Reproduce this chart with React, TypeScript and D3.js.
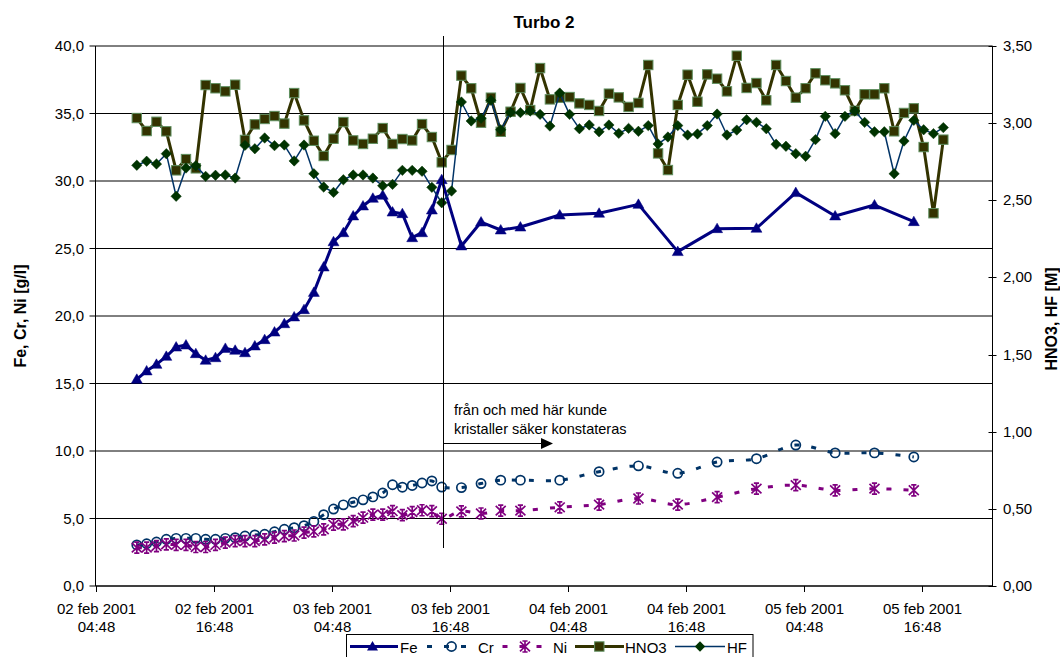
import React from "react";
import * as d3 from "d3";

// ---------- data ----------
const metalTimes = [
  "02 09", "02 10", "02 11", "02 12", "02 13", "02 14", "02 15", "02 16", "02 17", "02 18",
  "02 19", "02 20", "02 21", "02 22", "02 23", "03 00", "03 01", "03 02", "03 03", "03 04",
  "03 05", "03 06", "03 07", "03 08", "03 09", "03 10", "03 11", "03 12", "03 13", "03 14",
  "03 15", "03 16", "03 18", "03 20", "03 22", "04 00", "04 04", "04 08", "04 12", "04 16",
  "04 20", "05 00", "05 04", "05 08", "05 12", "05 16",
];
const feValues = [
  15.31, 15.93, 16.42, 17.01, 17.7, 17.85, 17.21, 16.72, 16.91, 17.6,
  17.46, 17.28, 17.78, 18.25, 18.81, 19.43, 19.93, 20.47, 21.75, 23.63,
  25.5, 26.17, 27.41, 28.15, 28.72, 28.94, 27.7, 27.58, 25.8, 26.17,
  27.85, 30.1, 25.19, 26.96, 26.37, 26.59, 27.48, 27.61, 28.27, 24.77,
  26.47, 26.5, 29.14, 27.41, 28.22, 26.99,
];
const crValues = [
  3.04, 3.13, 3.26, 3.46, 3.53, 3.53, 3.53, 3.46, 3.46, 3.53,
  3.58, 3.7, 3.78, 3.83, 4.02, 4.2, 4.32, 4.47, 4.78, 5.28,
  5.7, 6.01, 6.2, 6.38, 6.6, 6.89, 7.5, 7.32, 7.45, 7.63,
  7.78, 7.33, 7.29, 7.59, 7.84, 7.84, 7.84, 8.47, 8.9, 8.35,
  9.18, 9.43, 10.44, 9.86, 9.86, 9.56,
];
const niValues = [
  2.84, 2.84, 2.96, 3.09, 3.04, 3.04, 2.89, 2.89, 3.04, 3.21,
  3.33, 3.33, 3.33, 3.46, 3.58, 3.7, 3.74, 3.95, 4.04, 4.2,
  4.55, 4.57, 4.81, 5.06, 5.29, 5.28, 5.54, 5.25, 5.47, 5.61,
  5.54, 4.98, 5.53, 5.37, 5.58, 5.58, 5.83, 6.03, 6.48, 6.03,
  6.58, 7.21, 7.47, 7.09, 7.21, 7.09,
];

const acidTimes = [
  "02 09", "02 10", "02 11", "02 12", "02 13", "02 14", "02 15", "02 16", "02 17", "02 18",
  "02 19", "02 20", "02 21", "02 22", "02 23", "03 00", "03 01", "03 02", "03 03", "03 04",
  "03 05", "03 06", "03 07", "03 08", "03 09", "03 10", "03 11", "03 12", "03 13", "03 14",
  "03 15", "03 16", "03 17", "03 18", "03 19", "03 20", "03 21", "03 22", "03 23", "04 00",
  "04 01", "04 02", "04 03", "04 04", "04 05", "04 06", "04 07", "04 08", "04 09", "04 10",
  "04 11", "04 12", "04 13", "04 14", "04 15", "04 16", "04 17", "04 18", "04 19", "04 20",
  "04 21", "04 22", "04 23", "05 00", "05 01", "05 02", "05 03", "05 04", "05 05", "05 06",
  "05 07", "05 08", "05 09", "05 10", "05 11", "05 12", "05 13", "05 14", "05 15", "05 16",
  "05 17", "05 18", "05 19",
];
const hno3Values = [
  3.033, 2.949, 3.009, 2.947, 2.694, 2.767, 2.707, 3.247, 3.226, 3.206,
  3.249, 2.891, 2.992, 3.027, 3.046, 2.997, 3.195, 3.018, 2.886, 2.787,
  2.899, 3.007, 2.888, 2.865, 2.899, 2.968, 2.865, 2.897, 2.888, 2.994,
  2.91, 2.746, 2.826, 3.308, 3.226, 3.003, 3.165, 2.944, 3.074, 3.228,
  3.085, 3.357, 3.154, 3.165, 3.169, 3.128, 3.118, 3.079, 3.191, 3.167,
  3.105, 3.131, 3.377, 2.804, 2.696, 3.118, 3.314, 3.139, 3.316, 3.288,
  3.206, 3.437, 3.228, 3.26, 3.148, 3.377, 3.273, 3.165, 3.226, 3.323,
  3.278, 3.258, 3.213, 3.079, 3.187, 3.187, 3.226, 2.947, 3.066, 3.096,
  2.845, 2.416, 2.893,
];
const hfValues = [
  2.727, 2.753, 2.735, 2.802, 2.526, 2.709, 2.724, 2.655, 2.662, 2.664,
  2.644, 2.856, 2.834, 2.904, 2.854, 2.858, 2.755, 2.858, 2.672, 2.586,
  2.551, 2.633, 2.664, 2.664, 2.644, 2.594, 2.603, 2.694, 2.694, 2.688,
  2.584, 2.484, 2.56, 3.137, 3.014, 3.031, 3.148, 2.957, 3.07, 3.068,
  3.079, 3.057, 2.981, 3.195, 3.057, 2.964, 2.988, 2.944, 2.988, 2.934,
  2.966, 2.947, 2.984, 2.865, 2.91, 2.984, 2.923, 2.93, 2.984, 3.059,
  2.923, 2.955, 3.022, 3.005, 2.964, 2.863, 2.85, 2.802, 2.785, 2.893,
  3.044, 2.932, 3.044, 3.079, 3.005, 2.944, 2.944, 2.672, 2.884, 3.018,
  2.957, 2.932, 2.971,
];

const xDomain = ["2001-02-02 04:48", "2001-02-06 00:00"];
const xTicks = [
  "2001-02-02 04:48", "2001-02-02 16:48", "2001-02-03 04:48", "2001-02-03 16:48",
  "2001-02-04 04:48", "2001-02-04 16:48", "2001-02-05 04:48", "2001-02-05 16:48",
];
const leftTicks = [0, 5, 10, 15, 20, 25, 30, 35, 40];
const rightTicks = [0, 0.5, 1, 1.5, 2, 2.5, 3, 3.5];
const annotationTime = "2001-02-03 16:05";
const annotationText = ["från och med här kunde", "kristaller säker konstateras"];

// ---------- helpers ----------
const parseFull = d3.utcParse("%Y-%m-%d %H:%M");
const parseShort = (s: string) => d3.utcParse("%Y-%m-%d %H")("2001-02-" + s) as Date;
const fmtDate = d3.utcFormat("%d feb %Y");
const fmtTime = d3.utcFormat("%H:%M");
const comma = (f: string) => (v: number) => d3.format(f)(v).replace(".", ",");

const FONT = "'Liberation Sans', Arial, Helvetica, sans-serif";

const C_FE = "#000080";
const C_CR = "#003366";
const C_NI = "#800080";
const C_HNO3 = "#333300";
const C_HF = "#003366";
const C_HFM = "#003300";

const triPath = "M0,-5.5L5.5,4L-5.5,4Z";
const diaPath = "M0,-5.2L5.2,0L0,5.2L-5.2,0Z";
const starPath = "M0,-5.5V5.5M-5,-4.8L5,4.8M5,-4.8L-5,4.8M-2.6,-5.5H2.6M-2.6,5.5H2.6";

type Pt = [Date, number];

export default function App() {
  const x = d3
    .scaleUtc()
    .domain(xDomain.map((s) => parseFull(s) as Date))
    .range([95.5, 992.5]);
  const yL = d3.scaleLinear().domain([0, 40]).range([586, 46]);
  const yR = d3.scaleLinear().domain([0, 3.5]).range([586, 46]);

  const mt = metalTimes.map(parseShort);
  const at = acidTimes.map(parseShort);
  const fe: Pt[] = mt.map((t, i) => [t, feValues[i]]);
  const cr: Pt[] = mt.map((t, i) => [t, crValues[i]]);
  const ni: Pt[] = mt.map((t, i) => [t, niValues[i]]);
  const hno3: Pt[] = at.map((t, i) => [t, hno3Values[i]]);
  const hf: Pt[] = at.map((t, i) => [t, hfValues[i]]);

  const lineL = d3.line<Pt>().x((d) => x(d[0])).y((d) => yL(d[1]));
  const smoothL = d3
    .line<Pt>()
    .x((d) => x(d[0]))
    .y((d) => yL(d[1]))
    .curve(d3.curveCatmullRom.alpha(0));
  const lineR = d3.line<Pt>().x((d) => x(d[0])).y((d) => yR(d[1]));

  const xl = 95.5;
  const xr = 992.5;
  const ax = Math.round(x(parseFull(annotationTime) as Date)) + 0.5;
  const fmtL = comma(".1f");
  const fmtR = comma(".2f");

  return (
    <svg
      width={1060}
      height={657}
      style={{ position: "absolute", left: 0, top: 0, background: "#fff" }}
      fontFamily={FONT}
    >
      <rect x={0} y={0} width={1060} height={657} fill="#fff" />
      {/* title */}
      <text x={544} y={28} textAnchor="middle" fontSize={17} fontWeight="bold">
        Turbo 2
      </text>

      {/* grid lines */}
      {leftTicks.map((t) => (
        <line key={"g" + t} x1={xl} x2={xr} y1={yL(t)} y2={yL(t)} stroke="#000" strokeWidth={1} />
      ))}
      <line x1={xl} x2={xr} y1={yL(40)} y2={yL(40)} stroke="#808080" strokeWidth={1} />

      {/* left axis */}
      <line x1={xl} x2={xl} y1={yL(40)} y2={yL(0)} stroke="#000" />
      {leftTicks.map((t) => (
        <g key={"lt" + t}>
          <line x1={xl - 6} x2={xl} y1={yL(t)} y2={yL(t)} stroke="#000" />
          <text x={84} y={yL(t) + 5} textAnchor="end" fontSize={15}>
            {fmtL(t)}
          </text>
        </g>
      ))}
      {/* right axis */}
      <line x1={xr} x2={xr} y1={yR(3.5)} y2={yR(0)} stroke="#000" />
      {rightTicks.map((t) => (
        <g key={"rt" + t}>
          <line x1={xr - 4} x2={xr + 4} y1={Math.round(yR(t)) + 0.5} y2={Math.round(yR(t)) + 0.5} stroke="#000" />
          <text x={1003} y={yR(t) + 5} textAnchor="start" fontSize={15}>
            {fmtR(t)}
          </text>
        </g>
      ))}
      {/* x axis */}
      <line x1={xl} x2={xr} y1={yL(0)} y2={yL(0)} stroke="#000" />
      {xTicks.map((s) => {
        const d = parseFull(s) as Date;
        const px = Math.round(x(d)) + 0.5;
        return (
          <g key={s}>
            <line x1={px} x2={px} y1={586} y2={592} stroke="#000" />
            <text x={px} y={614} textAnchor="middle" fontSize={15}>
              {fmtDate(d)}
            </text>
            <text x={px} y={632} textAnchor="middle" fontSize={15}>
              {fmtTime(d)}
            </text>
          </g>
        );
      })}

      {/* axis titles */}
      <text transform="translate(26,316) rotate(-90)" textAnchor="middle" fontSize={16} fontWeight="bold">
        Fe, Cr, Ni [g/l]
      </text>
      <text transform="translate(1057,319) rotate(-90)" textAnchor="middle" fontSize={16} fontWeight="bold">
        HNO3, HF [M]
      </text>

      {/* Fe */}
      <path d={lineL(fe) || ""} fill="none" stroke={C_FE} strokeWidth={3} strokeLinejoin="round" />
      {fe.map((d, i) => (
        <path key={"fe" + i} d={triPath} transform={`translate(${x(d[0])},${yL(d[1])})`} fill={C_FE} stroke={C_FE} strokeWidth={0.5} />
      ))}

      {/* Cr */}
      <path d={smoothL(cr) || ""} fill="none" stroke={C_CR} strokeWidth={3} strokeDasharray="5,12" />
      {cr.map((d, i) => (
        <circle key={"cr" + i} cx={x(d[0])} cy={yL(d[1])} r={4.6} fill="none" stroke={C_CR} strokeWidth={1.7} />
      ))}

      {/* Ni */}
      <path d={smoothL(ni) || ""} fill="none" stroke={C_NI} strokeWidth={3} strokeDasharray="5,12" />
      {ni.map((d, i) => (
        <path key={"ni" + i} d={starPath} transform={`translate(${x(d[0])},${yL(d[1])})`} fill="none" stroke={C_NI} strokeWidth={1.7} />
      ))}

      {/* HNO3 */}
      <path d={lineR(hno3) || ""} fill="none" stroke={C_HNO3} strokeWidth={3} strokeLinejoin="round" />
      {hno3.map((d, i) => (
        <rect key={"hn" + i} x={x(d[0]) - 4.7} y={yR(d[1]) - 4.7} width={9.4} height={9.4} fill={C_HNO3} stroke="#5f8f5f" strokeWidth={1} />
      ))}

      {/* HF */}
      <path d={lineR(hf) || ""} fill="none" stroke={C_HF} strokeWidth={1.5} strokeLinejoin="round" />
      {hf.map((d, i) => (
        <path key={"hf" + i} d={diaPath} transform={`translate(${x(d[0])},${yR(d[1])})`} fill={C_HFM} stroke={C_HFM} strokeWidth={0.5} />
      ))}

      {/* annotation */}
      <line x1={ax} x2={ax} y1={36} y2={548} stroke="#000" strokeWidth={1} />
      <line x1={ax} x2={542} y1={443.5} y2={443.5} stroke="#000" strokeWidth={1} />
      <path d="M541,438L553,443.5L541,449Z" fill="#000" />
      <text x={454} y={415} fontSize={14.5}>
        {annotationText[0]}
      </text>
      <text x={454} y={434} fontSize={14.5}>
        {annotationText[1]}
      </text>

      {/* legend */}
      <rect x={346.5} y={634.5} width={406.5} height={30} fill="#fff" stroke="#000" strokeWidth={1} />
      <g fontSize={15}>
        <line x1={350} x2={398} y1={646.5} y2={646.5} stroke={C_FE} strokeWidth={3} />
        <path d={triPath} transform="translate(372.5,646.5)" fill={C_FE} />
        <text x={400} y={652.5}>Fe</text>

        <line x1={427} x2={468} y1={646.5} y2={646.5} stroke={C_CR} strokeWidth={3} strokeDasharray="5,12" />
        <circle cx={451.5} cy={646.5} r={4.6} fill="none" stroke={C_CR} strokeWidth={1.7} />
        <text x={478} y={652.5}>Cr</text>

        <line x1={502.5} x2={543} y1={646.5} y2={646.5} stroke={C_NI} strokeWidth={3} strokeDasharray="5,12" />
        <path d={starPath} transform="translate(525,646.5)" fill="none" stroke={C_NI} strokeWidth={1.7} />
        <text x={553} y={652.5}>Ni</text>

        <line x1={575} x2={624} y1={646.5} y2={646.5} stroke={C_HNO3} strokeWidth={3} />
        <rect x={594.6} y={641.8} width={9.4} height={9.4} fill={C_HNO3} stroke="#5f8f5f" strokeWidth={1} />
        <text x={625} y={652.5}>HNO3</text>

        <line x1={675} x2={725} y1={646.5} y2={646.5} stroke={C_HF} strokeWidth={1.5} />
        <path d={diaPath} transform="translate(700,646.5)" fill={C_HFM} />
        <text x={727} y={652.5}>HF</text>
      </g>
    </svg>
  );
}
